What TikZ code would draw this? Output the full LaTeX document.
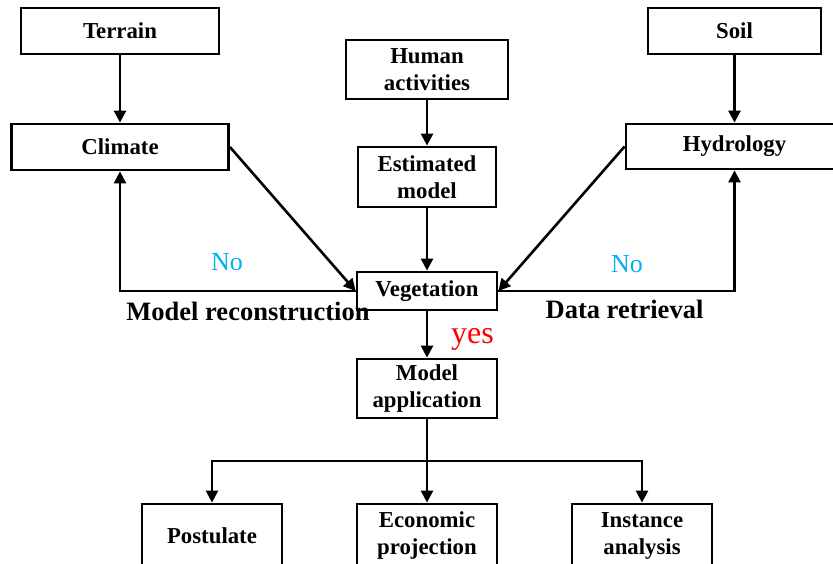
\documentclass[tikz,border=0pt]{standalone}
\usepackage{fontspec}
\setmainfont{Liberation Serif}
\usetikzlibrary{arrows.meta}
\definecolor{noblue}{RGB}{0,176,240}
\definecolor{yesred}{RGB}{255,0,0}
\begin{document}
\begin{tikzpicture}[x=1pt,y=-1pt,
  box/.style={draw, line width=2.8pt, inner sep=0pt, align=center,
    font=\fontsize{22.8}{27}\selectfont\bfseries},
  link/.style={line width=2.6pt, -{Triangle[length=12pt,width=12pt]}},
  plain/.style={line width=2.6pt},
  stage/.style={font=\fontsize{26.5}{30}\selectfont\bfseries, anchor=base, inner sep=0pt},
  answer/.style={font=\fontsize{26}{30}\selectfont, text=noblue, inner sep=0pt}]
\clip (0,0) rectangle (833,564);

% top row of drivers
\node[box, minimum width=198pt, minimum height=46pt] (terrain) at (120,31) {Terrain};
\node[box, minimum width=173pt, minimum height=46pt] (soil) at (734.5,31) {Soil};
\node[box, minimum width=162pt, minimum height=59pt] (human) at (427,69.5) {Human\\activities};

% second row
\node[box, minimum width=217pt, minimum height=46pt] (climate) at (120,147) {Climate};
\node[box, minimum width=217pt, minimum height=45pt] (hydro) at (734.5,146.5) {Hydrology};
\node[box, minimum width=138pt, minimum height=60pt] (estim) at (427,177) {Estimated\\model};

% central chain
\node[box, minimum width=140pt, minimum height=38pt] (veg) at (427,291) {Vegetation};
\node[box, minimum width=140pt, minimum height=59pt] (app) at (427,388.5) {Model\\application};

% outcomes
\node[box, minimum width=140pt, minimum height=64pt] (post) at (212,536) {Postulate};
\node[box, minimum width=140pt, minimum height=64pt] (econ) at (427,536) {Economic\\projection};
\node[box, minimum width=140pt, minimum height=64pt] (inst) at (642,536) {Instance\\analysis};

% connectors
\draw[link] (terrain) -- (climate);
\draw[link] (soil) -- (hydro);
\draw[link] (human) -- (estim);
\draw[link] (estim) -- (veg);
\draw[link] (climate.east) -- (veg.west);
\draw[link] (hydro.west) -- (veg.east);
\draw[link] (veg.west) -| (climate.south);
\draw[link] (veg.east) -| (hydro.south);
\draw[link] (veg) -- (app);

\coordinate (split) at (427,461);
\draw[plain] (app.south) -- (split);
\draw[link] (split) -| (post.north);
\draw[link] (split) -| (inst.north);
\draw[link] (split) -- (econ.north);

% labels
\node[answer] (noleft) at (227,262) {No};
\node[answer] (noright) at (627,264) {No};
\node[font=\fontsize{32}{36}\selectfont, text=yesred, anchor=base, inner sep=0pt] (yes) at (472.5,343) {yes};
\node[stage] (recon) at (248,320) {Model reconstruction};
\node[stage] (retr) at (624.5,319) {Data retrieval};
\end{tikzpicture}
\end{document}
